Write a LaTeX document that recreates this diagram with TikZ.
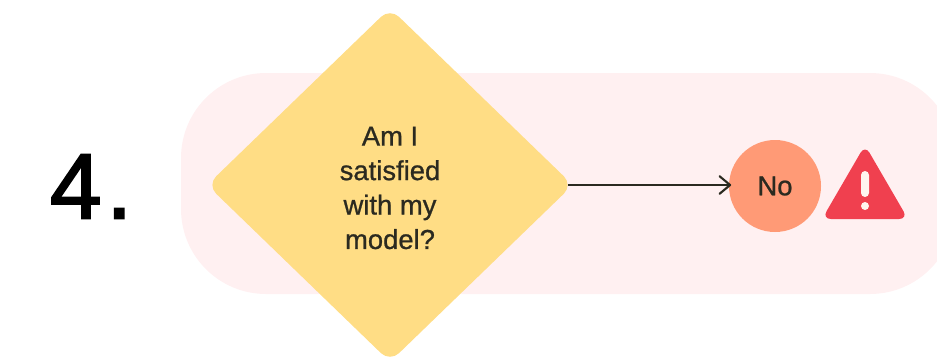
\documentclass[tikz,border=0pt]{standalone}
\usepackage{fontspec}
\setmainfont{Liberation Sans}
\newfontfamily\labelfont[FakeBold=0.8]{Liberation Sans}
\newfontfamily\numfont[FakeBold=2]{Liberation Sans}
\usetikzlibrary{shapes,arrows.meta}
\definecolor{panelpink}{HTML}{FFF0F1}
\definecolor{decyellow}{HTML}{FFDD85}
\definecolor{answerorange}{HTML}{FF9A76}
\definecolor{warnred}{HTML}{F0404F}
\definecolor{warnwhite}{HTML}{FFF5EF}
\definecolor{inkdark}{HTML}{2B2A20}
\tikzset{
	panel/.style={rectangle,fill=panelpink,rounded corners=1.7cm,minimum width=15.48cm,minimum height=4.42cm},
	decision/.style={diamond,fill=decyellow,rounded corners=.25cm,minimum width=7.32cm,minimum height=7.08cm,inner sep=0},
	asktext/.style={inner sep=0,text=inkdark,align=center,font=\fontsize{15.6}{19.6}\labelfont},
	answer/.style={circle,fill=answerorange,minimum size=1.84cm,inner sep=0,text=inkdark,font=\fontsize{15.6}{19.6}\labelfont},
	stepnum/.style={inner sep=0,text=black,font=\fontsize{53}{60}\numfont},
	flow/.style={->,>={Straight Barb[width=10pt,length=6pt,round]},color=inkdark,line width=1.2pt}
}
\begin{document}
\begin{tikzpicture}
		\useasboundingbox (0, 0) rectangle (18.74, 7.12);
		\clip (0, 0) rectangle (18.74, 7.12);

		\node [panel] (panel) at (11.36, 3.45) {};
		\node [stepnum] (num) at (1.82, 3.39) {4\kern.05em.};
		\node [decision] (ask) at (7.8, 3.42) {};
		\node [asktext] (asklabel) at (7.8, 3.36) {Am I\\satisfied\\with my\\model?};
		\node [answer] (no) at (15.5, 3.4) {No};

		\draw [flow, shorten <=-.1cm, shorten >=-.05cm] (ask.east) to (ask.east -| no.west);

		\fill [warnred, rounded corners=.18cm] (17.3, 4.22) -- (18.16, 2.74) -- (16.44, 2.74) -- cycle;
		\fill [warnwhite, rounded corners=.08cm] (17.22, 3.7) rectangle (17.38, 3.18);
		\fill [warnwhite] (17.3, 3) circle (.08);
\end{tikzpicture}
\end{document}
